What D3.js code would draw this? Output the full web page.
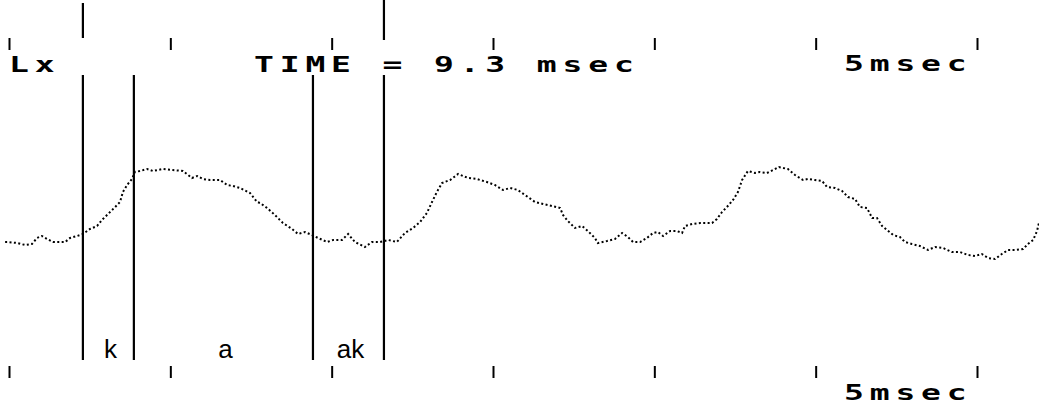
<!DOCTYPE html>
<html>
<head>
<meta charset="utf-8">
<script src="https://cdn.jsdelivr.net/npm/d3@7"></script>
<style>
  html, body { margin: 0; padding: 0; background: #fff; }
  svg { display: block; }
</style>
</head>
<body>
<svg id="chart" width="1039" height="412"></svg>
<script>
// Sampled trace: time in milliseconds and amplitude (arbitrary units, 0 = resting level)
const timeMs = [
  -0.12, -0.03, 0.25, 0.50, 0.71, 0.87, 1.02, 1.18, 1.36, 1.58, 1.74, 1.89, 2.11, 2.29,
  2.51, 2.73, 2.88, 3.07, 3.29, 3.44, 3.53, 3.66, 3.81, 3.90, 4.06, 4.28, 4.46, 4.77,
  5.08, 5.39, 5.67, 5.83, 6.01, 6.23, 6.54, 6.76, 6.94, 7.16, 7.47, 7.69, 7.78, 8.00,
  8.24, 8.49, 8.77, 8.96, 9.17, 9.39, 9.58, 9.86, 10.04, 10.32, 10.51, 10.72, 11.03,
  11.25, 11.50, 11.75, 12.02, 12.27, 12.52, 12.74, 12.95, 13.11, 13.26, 13.42, 13.67,
  13.92, 14.23, 14.50, 14.81, 15.06, 15.31, 15.53, 15.77, 16.08, 16.30, 16.55, 16.83,
  17.08, 17.17, 17.32, 17.54, 17.76, 17.94, 18.16, 18.25, 18.53, 18.78, 19.00, 19.18,
  19.34, 19.56, 19.77, 19.96, 20.11, 20.27, 20.49, 20.70, 20.86, 20.95, 21.17, 21.42,
  21.79, 21.94, 22.10, 22.25, 22.44, 22.59, 22.72, 22.90, 23.12, 23.27, 23.49, 23.68,
  23.86, 24.14, 24.36, 24.61, 24.76, 24.98, 25.20, 25.35, 25.60, 25.82, 26.00, 26.22,
  26.37, 26.59, 26.75, 26.90, 27.06, 27.21, 27.40, 27.61, 27.77, 27.98, 28.23, 28.48,
  28.70, 28.95, 29.22, 29.47, 29.72, 29.94, 30.15, 30.34, 30.56, 30.77, 30.96, 31.18,
  31.43, 31.58, 31.74, 31.86, 31.92
];
const amplitude = [
  -1, -1, -2, -4, -3, 3, 5, 2, -1, -1, -1, 3, 5, 7,
  12, 15, 21, 27, 34, 39, 49, 56, 62, 69, 70, 72, 70, 72,
  71, 70, 63, 65, 62, 61, 61, 56, 55, 53, 48, 39, 38, 33,
  26, 18, 12, 7, 9, 6, 3, -1, 1, 1, 7, -1, -6,
  -1, -1, 1, -1, 8, 13, 19, 28, 39, 49, 58, 61,
  67, 63, 62, 59, 56, 51, 53, 51, 44, 39, 37, 35,
  33, 26, 20, 13, 15, 10, 3, -2, 0, 2, 8, 4,
  -1, -1, 3, 8, 9, 5, 10, 10, 8, 15, 17, 18,
  18, 22, 29, 34, 41, 49, 61, 70, 68, 69, 68, 71,
  74, 72, 66, 61, 62, 61, 60, 54, 53, 50, 44, 42,
  34, 33, 23, 23, 15, 11, 6, 4, -1, -3, -5, -9,
  -6, -7, -11, -11, -14, -15, -13, -17, -18, -13, -9, -9,
  -8, -3, 1, 10, 18
];

// Graticule ticks (ms) and the four measurement cursors (ms)
const tickTimes = [0, 5, 10, 15, 20, 25, 30];
const cursorTimes = [2.29, 3.87, 9.42, 11.62];
const segmentLabels = ["k", "a", "ak"];
const channelLabel = "Lx";
const scaleLabel = "5msec";

const svg = d3.select("#chart");
const x = d3.scaleLinear().domain([0, 30]).range([9, 977]);
const y = d3.scaleLinear().domain([0, 100]).range([241, 141]);

// Tick marks along the top and bottom edges
function tickRow(yPos) {
  const g = svg.append("g")
    .attr("transform", `translate(0,${yPos})`)
    .call(d3.axisBottom(x).tickValues(tickTimes).tickSize(12).tickFormat(""));
  g.select(".domain").remove();
  g.selectAll(".tick line").attr("stroke", "#000").attr("stroke-width", 2);
}
tickRow(38);
tickRow(366);

// Cursor lines
svg.append("g").selectAll("line")
  .data(cursorTimes)
  .join("line")
  .attr("x1", d => x(d)).attr("x2", d => x(d))
  .attr("y1", 75).attr("y2", 360)
  .attr("stroke", "#000").attr("stroke-width", 2.2);

// Upper stubs of the outer cursors
const outer = [
  { t: cursorTimes[0], y1: 3, y2: 38 },
  { t: cursorTimes[cursorTimes.length - 1], y1: 0, y2: 40 }
];
svg.append("g").selectAll("line")
  .data(outer)
  .join("line")
  .attr("x1", d => x(d.t)).attr("x2", d => x(d.t))
  .attr("y1", d => d.y1).attr("y2", d => d.y2)
  .attr("stroke", "#000").attr("stroke-width", 2.2);

// Trace, drawn as a dotted line
const points = timeMs.map((t, i) => [t, amplitude[i]]);
const line = d3.line().x(d => x(d[0])).y(d => y(d[1]));
svg.append("path")
  .datum(points)
  .attr("d", line)
  .attr("fill", "none")
  .attr("stroke", "#000")
  .attr("stroke-width", 2)
  .attr("stroke-dasharray", "2 2.4");

// Segment labels between adjacent cursors
svg.append("g").selectAll("text")
  .data(segmentLabels)
  .join("text")
  .attr("x", (d, i) => (x(cursorTimes[i]) + x(cursorTimes[i + 1])) / 2 + 2)
  .attr("y", 358)
  .attr("text-anchor", "middle")
  .attr("font-family", "Liberation Sans, Arial, sans-serif")
  .attr("font-size", 26)
  .attr("fill", "#000")
  .text(d => d);

// Screen-style captions (wide monospace to mimic the scope's character cells)
function screenText(str, px, py) {
  svg.append("text")
    .attr("transform", `translate(${px},${py}) scale(1.5,1)`)
    .attr("font-family", "DejaVu Sans Mono, Liberation Mono, monospace")
    .attr("font-weight", "bold")
    .attr("font-size", 22)
    .attr("letter-spacing", 3.9)
    .attr("fill", "#000")
    .style("white-space", "pre")
    .text(str);
}
const elapsed = cursorTimes[cursorTimes.length - 1] - cursorTimes[0];
screenText(channelLabel, 9, 72);
screenText("TIME = " + d3.format(".1f")(elapsed) + " msec", 254, 72);
screenText(scaleLabel, 844, 71);
screenText(scaleLabel, 844, 400);
</script>
</body>
</html>
